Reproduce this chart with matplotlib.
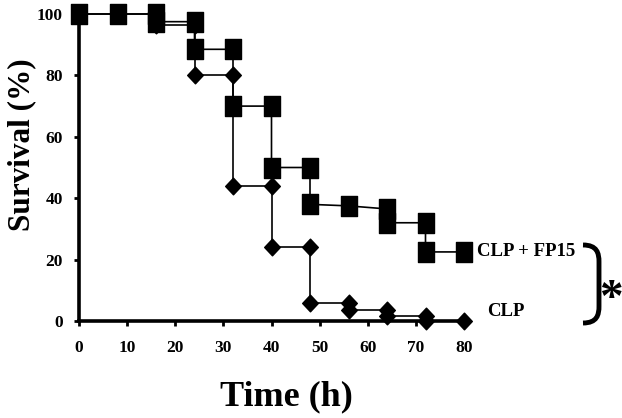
import matplotlib
matplotlib.use("Agg")
import matplotlib.pyplot as plt
from matplotlib.path import Path
from matplotlib.patches import PathPatch

# CLP + FP15 (squares): step points, repeated times mark a drop
fp15_time = [0, 8, 16, 16, 24, 24, 32, 32, 40, 40, 48, 48, 56, 64, 64, 72, 72, 80]
fp15_surv = [100, 100, 100, 97.5, 97.5, 88.5, 88.5, 70, 70, 50, 50, 38, 37.5, 36.5, 32, 32, 22.5, 22.5]

# CLP (diamonds)
clp_time = [0, 8, 16, 16, 24, 24, 32, 32, 40, 40, 48, 48, 56, 56, 64, 64, 72, 72, 80]
clp_surv = [100, 100, 100, 96.5, 96.5, 80, 80, 44, 44, 24, 24, 6, 6, 3.6, 3.6, 1.6, 1.6, 0, 0]

x_ticks = [0, 10, 20, 30, 40, 50, 60, 70, 80]
y_ticks = [0, 20, 40, 60, 80, 100]

serif = ["Liberation Serif", "DejaVu Serif"]
plt.rcParams["font.family"] = serif
plt.rcParams["font.weight"] = "bold"

W, H = 622, 418
fig = plt.figure(figsize=(W / 100, H / 100), dpi=100)
ax = fig.add_axes([79 / W, 1 - 321 / H, (464 - 79) / W, (321 - 14) / H])

rect = Path([(-0.375, -0.5), (0.375, -0.5), (0.375, 0.5), (-0.375, 0.5), (-0.375, -0.5)],
            [Path.MOVETO, Path.LINETO, Path.LINETO, Path.LINETO, Path.CLOSEPOLY])
diam = Path([(0, -0.5), (0.47, 0), (0, 0.5), (-0.47, 0), (0, -0.5)],
            [Path.MOVETO, Path.LINETO, Path.LINETO, Path.LINETO, Path.CLOSEPOLY])

ax.plot(clp_time, clp_surv, color="black", lw=1.2, marker=diam, ms=12,
        mfc="black", mec="black", clip_on=False, zorder=3)
ax.plot(fp15_time, fp15_surv, color="black", lw=1.2, marker=rect, ms=14.5,
        mfc="black", mec="black", clip_on=False, zorder=4)

ax.set_xlim(0, 80)
ax.set_ylim(0, 100)
ax.set_xticks(x_ticks)
ax.set_yticks(y_ticks)
for s in ["top", "right"]:
    ax.spines[s].set_visible(False)
for s in ["left", "bottom"]:
    ax.spines[s].set_linewidth(2.6)
ax.tick_params(axis="both", direction="out", length=3.5, width=2, labelsize=12.5)
ax.tick_params(axis="x", pad=10)
ax.tick_params(axis="y", pad=8)
for lab in ax.get_xticklabels() + ax.get_yticklabels():
    lab.set_fontweight("bold")

ax.set_xlabel("Time (h)", fontsize=26, fontweight="bold")
ax.xaxis.set_label_coords((286 - 79) / (464 - 79), -(397 - 321) / (321 - 14), transform=ax.transAxes)
ax.xaxis.label.set_va("center")
ax.set_ylabel("Survival (%)", fontsize=22.5, fontweight="bold")
ax.yaxis.set_label_coords(-(79 - 22) / (464 - 79), (321 - 145) / (321 - 14), transform=ax.transAxes)
ax.yaxis.label.set_va("center")

ax.text(477 / W, 1 - 252 / H, "CLP + FP15", transform=fig.transFigure,
        fontsize=13.5, fontweight="bold", ha="left", va="center")
ax.text(487 / W, 1 - 312 / H, "CLP", transform=fig.transFigure,
        fontsize=13.5, fontweight="bold", ha="left", va="center")

# bracket
def fp(x, y):
    return (x / W, 1 - y / H)

verts = [fp(583, 245), fp(597, 245), fp(599, 253), fp(599, 262),
         fp(599, 306), fp(599, 315), fp(597, 323), fp(583, 323)]
codes = [Path.MOVETO, Path.CURVE4, Path.CURVE4, Path.CURVE4,
         Path.LINETO, Path.CURVE4, Path.CURVE4, Path.CURVE4]
fig.add_artist(PathPatch(Path(verts, codes), transform=fig.transFigure,
                         fill=False, lw=3.5, color="black"))
fig.text(611 / W, 1 - 300 / H, "*", fontsize=34, fontweight="bold",
         ha="center", va="center")

fig.savefig("out.png", dpi=100)
